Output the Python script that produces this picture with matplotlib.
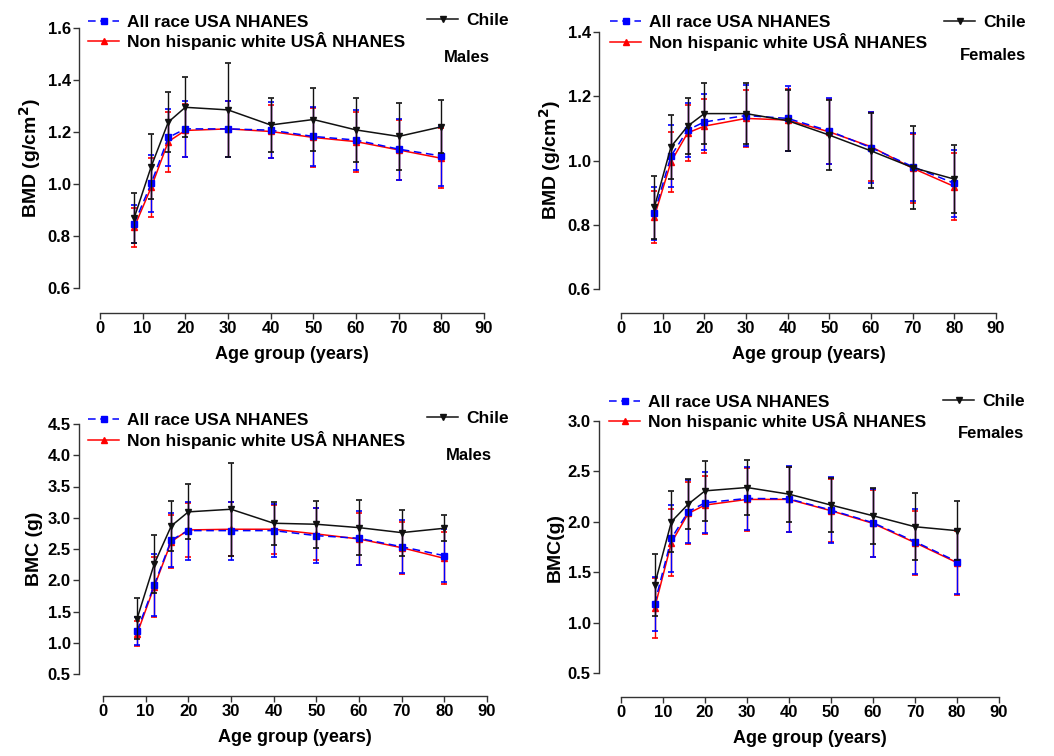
import matplotlib
matplotlib.use("Agg")
import matplotlib.pyplot as plt
import numpy as np

plt.rcParams["font.family"] = ["Liberation Sans", "DejaVu Sans"]
plt.rcParams["font.weight"] = "bold"

ages = [8, 12, 16, 20, 30, 40, 50, 60, 70, 80]

# BMD males
bmd_m_chile = [0.869, 1.067, 1.238, 1.295, 1.285, 1.227, 1.248, 1.208, 1.183, 1.220]
bmd_m_chile_sd = [0.095, 0.125, 0.115, 0.115, 0.180, 0.105, 0.120, 0.122, 0.130, 0.102]
bmd_m_all = [0.847, 1.002, 1.179, 1.212, 1.212, 1.207, 1.183, 1.169, 1.134, 1.108]
bmd_m_all_sd = [0.072, 0.110, 0.110, 0.108, 0.108, 0.107, 0.112, 0.116, 0.117, 0.115]
bmd_m_nhw = [0.833, 0.987, 1.163, 1.206, 1.212, 1.202, 1.179, 1.163, 1.131, 1.099]
bmd_m_nhw_sd = [0.075, 0.112, 0.115, 0.102, 0.108, 0.103, 0.112, 0.115, 0.117, 0.115]

# BMD females
bmd_f_chile = [0.854, 1.043, 1.107, 1.146, 1.146, 1.124, 1.079, 1.030, 0.978, 0.942]
bmd_f_chile_sd = [0.098, 0.100, 0.086, 0.094, 0.095, 0.095, 0.110, 0.117, 0.128, 0.106]
bmd_f_all = [0.836, 1.014, 1.095, 1.120, 1.140, 1.131, 1.092, 1.040, 0.981, 0.929]
bmd_f_all_sd = [0.083, 0.097, 0.085, 0.088, 0.096, 0.102, 0.104, 0.111, 0.106, 0.105]
bmd_f_nhw = [0.825, 0.996, 1.086, 1.107, 1.131, 1.126, 1.089, 1.043, 0.976, 0.919]
bmd_f_nhw_sd = [0.081, 0.093, 0.088, 0.083, 0.090, 0.097, 0.101, 0.108, 0.108, 0.105]

# BMC males
bmc_m_chile = [1.388, 2.259, 2.869, 3.094, 3.136, 2.912, 2.896, 2.842, 2.762, 2.832]
bmc_m_chile_sd = [0.335, 0.470, 0.400, 0.440, 0.740, 0.340, 0.375, 0.440, 0.367, 0.210]
bmc_m_all = [1.190, 1.922, 2.644, 2.794, 2.794, 2.794, 2.714, 2.671, 2.537, 2.393]
bmc_m_all_sd = [0.225, 0.498, 0.436, 0.465, 0.463, 0.427, 0.441, 0.433, 0.425, 0.423]
bmc_m_nhw = [1.147, 1.896, 2.618, 2.805, 2.816, 2.816, 2.741, 2.660, 2.521, 2.350]
bmc_m_nhw_sd = [0.205, 0.480, 0.425, 0.425, 0.433, 0.393, 0.420, 0.420, 0.415, 0.415]

# BMC females
bmc_f_chile = [1.374, 2.001, 2.175, 2.307, 2.340, 2.274, 2.166, 2.060, 1.951, 1.912]
bmc_f_chile_sd = [0.310, 0.300, 0.250, 0.296, 0.269, 0.273, 0.268, 0.278, 0.330, 0.290]
bmc_f_all = [1.186, 1.836, 2.100, 2.189, 2.232, 2.228, 2.116, 1.991, 1.803, 1.605]
bmc_f_all_sd = [0.270, 0.335, 0.313, 0.303, 0.313, 0.325, 0.326, 0.338, 0.322, 0.317]
bmc_f_nhw = [1.143, 1.793, 2.083, 2.166, 2.222, 2.222, 2.110, 1.984, 1.793, 1.595]
bmc_f_nhw_sd = [0.300, 0.330, 0.308, 0.284, 0.310, 0.323, 0.310, 0.333, 0.317, 0.317]

series_labels = ["All race USA NHANES", "Non hispanic white USÂ NHANES", "Chile"]

W, H = 1054, 756
fig = plt.figure(figsize=(W / 100, H / 100), dpi=100)


def px(x0, y0, x1, y1):
    # pixel box (top-left origin) -> figure fraction rect
    return [x0 / W, 1 - y1 / H, (x1 - x0) / W, (y1 - y0) / H]


panels = [
    dict(rect=px(100, 28, 484, 288), ylim=(0.6, 1.6), yticks=np.arange(0.6, 1.61, 0.2),
         ylabel="BMD (g/cm$\\mathbf{^2}$)", off=(21, 25),
         data=(bmd_m_all, bmd_m_all_sd, bmd_m_nhw, bmd_m_nhw_sd, bmd_m_chile, bmd_m_chile_sd),
         leg=(88, 32.5), chile=(427, 20), sex="Males", sexpos=(467, 58)),
    dict(rect=px(621, 32, 996, 289), ylim=(0.6, 1.4), yticks=np.arange(0.6, 1.41, 0.2),
         ylabel="BMD (g/cm$\\mathbf{^2}$)", off=(22, 24),
         data=(bmd_f_all, bmd_f_all_sd, bmd_f_nhw, bmd_f_nhw_sd, bmd_f_chile, bmd_f_chile_sd),
         leg=(610, 33), chile=(944, 22), sex="Females", sexpos=(993, 55)),
    dict(rect=px(103, 424, 487, 674), ylim=(0.5, 4.5), yticks=np.arange(0.5, 4.51, 0.5),
         ylabel="BMC (g)", off=(24, 22),
         data=(bmc_m_all, bmc_m_all_sd, bmc_m_nhw, bmc_m_nhw_sd, bmc_m_chile, bmc_m_chile_sd),
         leg=(88, 431), chile=(427, 418), sex="Males", sexpos=(469, 456)),
    dict(rect=px(621, 421, 999, 673), ylim=(0.5, 3.0), yticks=np.arange(0.5, 3.01, 0.5),
         ylabel="BMC(g)", off=(22, 24),
         data=(bmc_f_all, bmc_f_all_sd, bmc_f_nhw, bmc_f_nhw_sd, bmc_f_chile, bmc_f_chile_sd),
         leg=(609, 412.5), chile=(943, 401), sex="Females", sexpos=(991, 433)),
]

for p in panels:
    ax = fig.add_axes(p["rect"])
    all_v, all_sd, nhw_v, nhw_sd, ch_v, ch_sd = p["data"]

    ax.errorbar(ages, nhw_v, yerr=nhw_sd, fmt="none", ecolor="#ff0000",
                elinewidth=1, capsize=2.5, capthick=1.2)
    h_nhw, = ax.plot(ages, nhw_v, color="#ff0000", lw=1.1, marker="^", ms=4)
    ax.errorbar(ages, all_v, yerr=all_sd, fmt="none", ecolor="#0000ff",
                elinewidth=1, capsize=2.5, capthick=1.2)
    h_all, = ax.plot(ages, all_v, color="#0000ff", lw=1.1, ls=(0, (5, 3)),
                     marker="s", ms=4)
    ax.errorbar(ages, ch_v, yerr=ch_sd, fmt="none", ecolor="#111111",
                elinewidth=1, capsize=2.5, capthick=1.2)
    h_ch, = ax.plot(ages, ch_v, color="#111111", lw=1.1, marker="v", ms=4)

    ax.set_xlim(0, 90)
    ax.set_ylim(*p["ylim"])
    ax.set_xticks(range(0, 91, 10))
    ax.set_yticks(p["yticks"])
    ax.set_yticklabels(["{:.1f}".format(v) for v in p["yticks"]])

    for s in ("top", "right"):
        ax.spines[s].set_visible(False)
    ax.spines["left"].set_position(("outward", p["off"][0] * 0.72))
    ax.spines["bottom"].set_position(("outward", p["off"][1] * 0.72))
    for s in ("left", "bottom"):
        ax.spines[s].set_color("#333333")
        ax.spines[s].set_linewidth(1)
    ax.tick_params(length=4, width=1, color="#333333", labelsize=12, pad=2)
    for lab in ax.get_xticklabels() + ax.get_yticklabels():
        lab.set_fontweight("bold")

    ax.set_xlabel("Age group (years)", fontsize=13, fontweight="bold", labelpad=7)
    ax.set_ylabel(p["ylabel"], fontsize=14, fontweight="bold", labelpad=3)

    lx, ly = p["leg"]
    leg1 = ax.legend([h_all, h_nhw], series_labels[:2], loc="center left",
                     bbox_to_anchor=(lx / W, 1 - ly / H), bbox_transform=fig.transFigure,
                     frameon=False, borderpad=0, borderaxespad=0, handlelength=1.8,
                     handletextpad=0.45, labelspacing=0.15,
                     prop=dict(size=12.5, weight="bold"))
    ax.add_artist(leg1)
    cx, cy = p["chile"]
    ax.legend([h_ch], series_labels[2:], loc="center left",
              bbox_to_anchor=(cx / W, 1 - cy / H), bbox_transform=fig.transFigure,
              frameon=False, borderpad=0, borderaxespad=0, handlelength=1.8,
              handletextpad=0.45, prop=dict(size=12.5, weight="bold"))
    sx, sy = p["sexpos"]
    fig.text(sx / W, 1 - sy / H, p["sex"], ha="center", va="center",
             fontsize=12, fontweight="bold")

fig.savefig("out.png", dpi=100)
